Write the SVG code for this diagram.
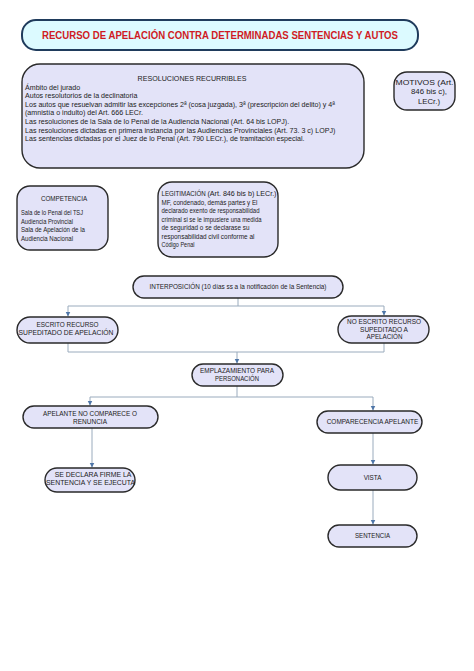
<svg xmlns="http://www.w3.org/2000/svg" width="474" height="671" viewBox="0 0 474 671">
<defs>
<marker id="arr" markerWidth="6" markerHeight="6" refX="5" refY="3" orient="auto" markerUnits="userSpaceOnUse">
<path d="M0,0.5 L5,3 L0,5.5 Z" fill="#4f76a8"/>
</marker>
</defs>
<style>
text{font-family:"Liberation Sans",Arial,sans-serif;fill:#222}
.node{fill:#e3e3f8;stroke:#2a2a2a;stroke-width:1.4}
.t{font-size:6.3px}
.c{text-anchor:middle}
.r{font-size:7.1px}
.conn{fill:none;stroke:#9aabbd;stroke-width:1}
</style>
<rect width="474" height="671" fill="#ffffff"/>
<g id="title">
<rect x="22" y="20" width="396" height="30" rx="14" fill="#dcfaff" stroke="#1f3b5c" stroke-width="2"/>
<text x="220" y="38.5" class="c" style="font-size:10px;font-weight:bold;fill:#d01a24" textLength="356" lengthAdjust="spacingAndGlyphs">RECURSO DE APELACIÓN CONTRA DETERMINADAS SENTENCIAS Y AUTOS</text>
</g>
<g id="resoluciones">
<rect class="node" x="22" y="64" width="342" height="104" rx="18"/>
<text class="r c" x="192" y="80.5">RESOLUCIONES RECURRIBLES</text>
<text class="r" x="25" y="89.5">Ámbito del jurado</text>
<text class="r" x="25" y="98.1">Autos resolutorios de la declinatoria</text>
<text class="r" x="25" y="106.7">Los autos que resuelvan admitir las excepciones 2ª (cosa juzgada), 3ª (prescripción del delito) y 4ª</text>
<text class="r" x="25" y="115.3">(amnistía o indulto) del Art. 666 LECr.</text>
<text class="r" x="25" y="123.9">Las resoluciones  de la Sala de lo Penal de la Audiencia Nacional  (Art. 64 bis LOPJ).</text>
<text class="r" x="25" y="132.5">Las resoluciones dictadas en primera instancia por las Audiencias Provinciales (Art. 73. 3 c) LOPJ)</text>
<text class="r" x="25" y="141.1">Las sentencias dictadas por el Juez de lo Penal (Art. 790 LECr.), de tramitación especial.</text>
</g>
<g id="motivos">
<rect class="node" x="394" y="72" width="61" height="38" rx="13"/>
<text class="c" x="424.5" y="84.5" style="font-size:7.8px" textLength="58" lengthAdjust="spacingAndGlyphs">MOTIVOS (Art.</text>
<text class="c" x="429" y="94" style="font-size:7.8px">846 bis c),</text>
<text class="c" x="429" y="103.5" style="font-size:7.8px">LECr.)</text>
</g>
<g id="competencia">
<rect class="node" x="17" y="186" width="91" height="64" rx="13"/>
<text class="t c" x="64" y="201">COMPETENCIA</text>
<text class="t" x="21" y="215.2" textLength="62" lengthAdjust="spacingAndGlyphs">Sala de lo Penal del TSJ</text>
<text class="t" x="21" y="223.7" textLength="52" lengthAdjust="spacingAndGlyphs">Audiencia Provincial</text>
<text class="t" x="21" y="232.2" textLength="64" lengthAdjust="spacingAndGlyphs">Sala de Apelación de la</text>
<text class="t" x="21" y="240.7" textLength="52" lengthAdjust="spacingAndGlyphs">Audiencia Nacional</text>
</g>
<g id="legitimacion">
<rect class="node" x="158" y="182" width="120" height="75" rx="14"/>
<text class="t" x="161.5" y="196.2" textLength="115" lengthAdjust="spacingAndGlyphs">LEGITIMACIÓN <tspan style="font-size:7.3px">(Art. 846 bis b) LECr.)</tspan></text>
<text class="t" x="161.5" y="204.7" textLength="96" lengthAdjust="spacingAndGlyphs">MF, condenado, demás partes y El</text>
<text class="t" x="161.5" y="213.2" textLength="98" lengthAdjust="spacingAndGlyphs">declarado exento de responsabilidad</text>
<text class="t" x="161.5" y="221.7" textLength="100" lengthAdjust="spacingAndGlyphs">criminal si se le impusiere una medida</text>
<text class="t" x="161.5" y="230.2" textLength="88" lengthAdjust="spacingAndGlyphs">de seguridad o se declarase su</text>
<text class="t" x="161.5" y="238.7" textLength="93" lengthAdjust="spacingAndGlyphs">responsabilidad civil conforme al</text>
<text class="t" x="161.5" y="247.2" textLength="33" lengthAdjust="spacingAndGlyphs">Código Penal</text>
</g>
<g id="connectors">
<path class="conn" d="M238,298 V306 H68 V316.5" marker-end="url(#arr)"/>
<path class="conn" d="M238,306 H384 V315.5" marker-end="url(#arr)"/>
<path class="conn" d="M68,343 V352 H237 V363.5" marker-end="url(#arr)"/>
<path class="conn" d="M384,343 V352 H237"/>
<path class="conn" d="M237,386 V397 H90 V405.5" marker-end="url(#arr)"/>
<path class="conn" d="M237,397 H373 V410.5" marker-end="url(#arr)"/>
<path class="conn" d="M92,428 V467.5" marker-end="url(#arr)"/>
<path class="conn" d="M373,433 V464.5" marker-end="url(#arr)"/>
<path class="conn" d="M373,490 V524.5" marker-end="url(#arr)"/>
</g>
<g id="interposicion">
<rect class="node" x="133" y="276" width="210" height="22" rx="11"/>
<text class="t c" x="238" y="289.2" textLength="177" lengthAdjust="spacingAndGlyphs">INTERPOSICIÓN (10 días ss a la notificación de la Sentencia)</text>
</g>
<g id="escrito">
<rect class="node" x="17" y="317" width="101" height="26" rx="13"/>
<text class="t c" x="67.5" y="327.3" textLength="62" lengthAdjust="spacingAndGlyphs">ESCRITO RECURSO</text>
<text class="t c" x="66" y="335.3" textLength="95" lengthAdjust="spacingAndGlyphs">SUPEDITADO DE APELACIÓN</text>
</g>
<g id="noescrito">
<rect class="node" x="338" y="316" width="91" height="27" rx="13.5"/>
<text class="t c" x="384" y="324.2" textLength="74" lengthAdjust="spacingAndGlyphs">NO ESCRITO RECURSO</text>
<text class="t c" x="384" y="331.7" textLength="48" lengthAdjust="spacingAndGlyphs">SUPEDITADO A</text>
<text class="t c" x="384.5" y="339.2" textLength="36" lengthAdjust="spacingAndGlyphs">APELACIÓN</text>
</g>
<g id="emplazamiento">
<rect class="node" x="192" y="364" width="91" height="22" rx="11"/>
<text class="t c" x="237" y="372.5" textLength="74" lengthAdjust="spacingAndGlyphs">EMPLAZAMIENTO PARA</text>
<text class="t c" x="237" y="380.7" textLength="44" lengthAdjust="spacingAndGlyphs">PERSONACIÓN</text>
</g>
<g id="apelante">
<rect class="node" x="23" y="406" width="135" height="22" rx="11"/>
<text class="t c" x="90" y="416" textLength="94" lengthAdjust="spacingAndGlyphs">APELANTE NO COMPARECE O</text>
<text class="t c" x="90" y="424" textLength="34" lengthAdjust="spacingAndGlyphs">RENUNCIA</text>
</g>
<g id="comparecencia">
<rect class="node" x="317" y="411" width="105" height="22" rx="11"/>
<text class="t c" x="372.5" y="424.2" textLength="91.6" lengthAdjust="spacingAndGlyphs">COMPARECENCIA APELANTE</text>
</g>
<g id="sedeclara">
<rect class="node" x="45" y="468" width="90" height="24" rx="12"/>
<text class="t c" x="93" y="477.3" textLength="76.7" lengthAdjust="spacingAndGlyphs">SE DECLARA FIRME LA</text>
<text class="t c" x="90.5" y="485.3" textLength="89" lengthAdjust="spacingAndGlyphs">SENTENCIA Y SE EJECUTA</text>
</g>
<g id="vista">
<rect class="node" x="328" y="465" width="89" height="25" rx="12.5"/>
<text class="t c" x="372.5" y="479.7">VISTA</text>
</g>
<g id="sentencia">
<rect class="node" x="328" y="525" width="89" height="22" rx="11"/>
<text class="t c" x="372.5" y="538.2" textLength="35" lengthAdjust="spacingAndGlyphs">SENTENCIA</text>
</g>
</svg>
